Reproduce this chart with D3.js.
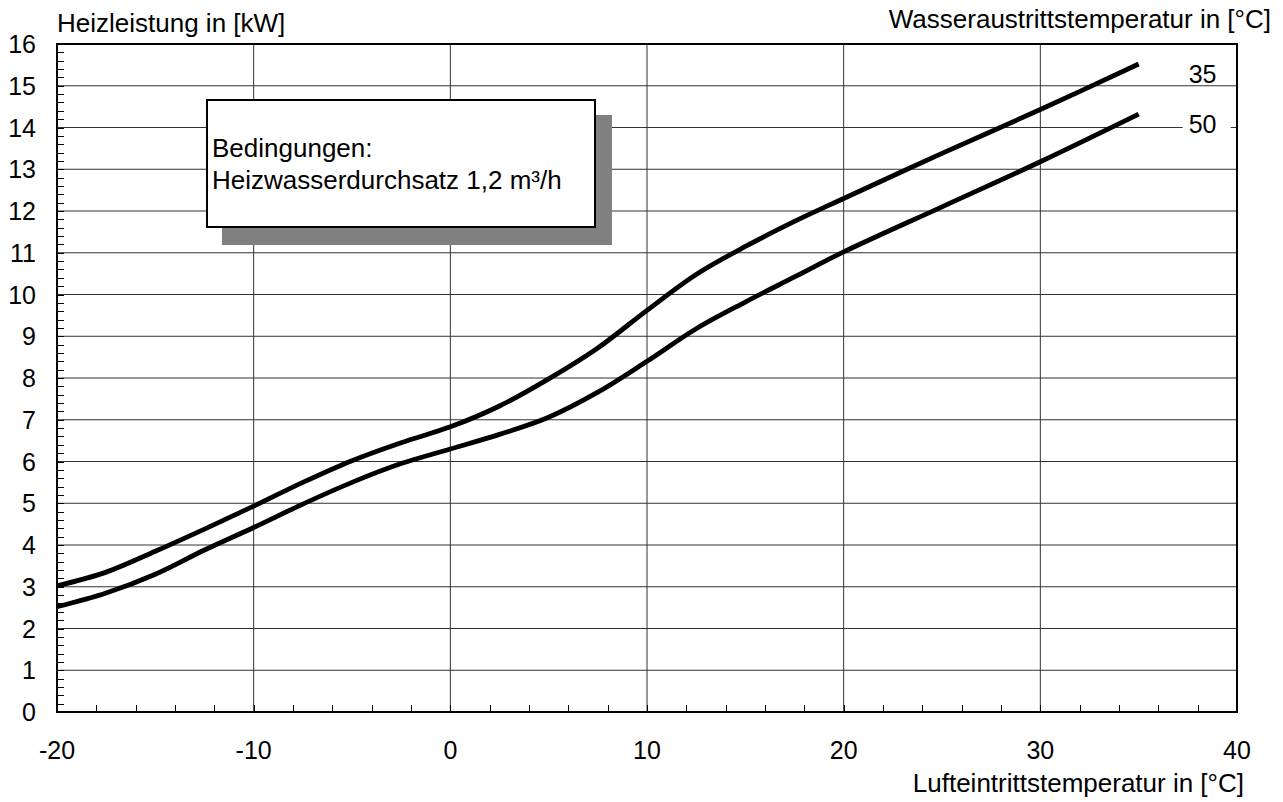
<!DOCTYPE html>
<html>
<head>
<meta charset="utf-8">
<script src="https://cdn.jsdelivr.net/npm/d3@7"></script>
<style>
  body { margin: 0; background: #fff; }
  text { font-family: "Liberation Sans", Arial, sans-serif; fill: #000; }
</style>
</head>
<body>
<script>
// chart size
var width = 1283;
var height = 802;
var margin = {top: 44, right: 46, bottom: 90, left: 57};
var fs = 26;

// data
var lufttemp = [-20, -17.5, -15, -12.5, -10, -7.5, -5, -2.5, 0, 2.5, 5, 7.5, 10, 12.5, 15, 17.5, 20, 25, 30, 35];
var leistung35 = [3.02, 3.35, 3.85, 4.38, 4.93, 5.5, 6.02, 6.45, 6.83, 7.33, 7.98, 8.72, 9.62, 10.48, 11.15, 11.75, 12.3, 13.38, 14.43, 15.52];
var leistung50 = [2.52, 2.85, 3.3, 3.88, 4.42, 4.98, 5.5, 5.95, 6.3, 6.65, 7.06, 7.66, 8.4, 9.18, 9.82, 10.42, 11.02, 12.1, 13.18, 14.32];
var seriesLabels = ['35', '50'];
var xTicks = [-20, -10, 0, 10, 20, 30, 40];
var yTicks = d3.range(0, 17);

var svg = d3.select('body').append('svg')
  .attr('width', width)
  .attr('height', height);

var x = d3.scaleLinear().domain([-20, 40]).range([margin.left, width - margin.right]);
var y = d3.scaleLinear().domain([0, 16]).range([height - margin.bottom, margin.top]);

// grid lines
svg.append('g').selectAll('line').data(yTicks.slice(1, -1))
  .enter().append('line')
  .attr('x1', x(-20)).attr('x2', x(40))
  .attr('y1', function(d) { return y(d); })
  .attr('y2', function(d) { return y(d); })
  .attr('stroke', '#333').attr('stroke-width', 1);

svg.append('g').selectAll('line').data(xTicks.slice(1, -1))
  .enter().append('line')
  .attr('x1', function(d) { return x(d); })
  .attr('x2', function(d) { return x(d); })
  .attr('y1', y(0)).attr('y2', y(16))
  .attr('stroke', '#333').attr('stroke-width', 1);

// minor ticks, pointing inwards
svg.append('g').selectAll('line').data(d3.range(0, 16.01, 0.2))
  .enter().append('line')
  .attr('x1', x(-20)).attr('x2', x(-20) + 7)
  .attr('y1', function(d) { return Math.round(y(d)) + 0.5; })
  .attr('y2', function(d) { return Math.round(y(d)) + 0.5; })
  .attr('stroke', '#000').attr('stroke-width', 1);

svg.append('g').selectAll('line').data(d3.range(-20, 40.01, 2))
  .enter().append('line')
  .attr('x1', function(d) { return Math.round(x(d)) + 0.5; })
  .attr('x2', function(d) { return Math.round(x(d)) + 0.5; })
  .attr('y1', y(0)).attr('y2', y(0) - 7)
  .attr('stroke', '#000').attr('stroke-width', 1);

// frame
svg.append('rect')
  .attr('x', x(-20)).attr('y', y(16))
  .attr('width', x(40) - x(-20)).attr('height', y(0) - y(16))
  .attr('fill', 'none').attr('stroke', '#000').attr('stroke-width', 2);

// tick labels
svg.append('g').selectAll('text').data(yTicks)
  .enter().append('text')
  .attr('x', x(-20) - 21)
  .attr('y', function(d) { return y(d); })
  .attr('dy', '0.36em')
  .attr('text-anchor', 'end')
  .attr('font-size', fs - 1)
  .text(function(d) { return d; });

svg.append('g').selectAll('text').data(xTicks)
  .enter().append('text')
  .attr('x', function(d) { return x(d); })
  .attr('y', y(0) + 47)
  .attr('text-anchor', 'middle')
  .attr('font-size', fs - 1)
  .text(function(d) { return d; });

// axis titles
svg.append('text').attr('x', 57).attr('y', 32).attr('font-size', fs)
  .text('Heizleistung in [kW]');
svg.append('text').attr('x', 1271).attr('y', 28).attr('text-anchor', 'end').attr('font-size', fs)
  .text('Wasseraustrittstemperatur in [°C]');
svg.append('text').attr('x', 1244).attr('y', 792).attr('text-anchor', 'end').attr('font-size', fs)
  .text('Lufteintrittstemperatur in [°C]');

// curves
var line = d3.line()
  .x(function(d) { return x(d[0]); })
  .y(function(d) { return y(d[1]); })
  .curve(d3.curveCatmullRom.alpha(0.5));

[leistung35, leistung50].forEach(function(vals, i) {
  var pts = lufttemp.map(function(t, j) { return [t, vals[j]]; });
  svg.append('path')
    .datum(pts)
    .attr('d', line)
    .attr('fill', 'none')
    .attr('stroke', '#000')
    .attr('stroke-width', 4.8);
  // series label; the lower one sits on a white patch over the grid line
  var lx = x(35) + 50, ly = y(vals[vals.length - 1]) + 19;
  if (i === 1) {
    svg.append('rect').attr('x', lx - 6).attr('y', ly - 22).attr('width', 48).attr('height', 28)
      .attr('fill', '#fff');
  }
  svg.append('text').attr('x', lx).attr('y', ly).attr('font-size', fs - 1)
    .text(seriesLabels[i]);
});

// info box with shadow
svg.append('rect').attr('x', 222).attr('y', 115).attr('width', 390).attr('height', 130)
  .attr('fill', '#808080');
svg.append('rect').attr('x', 207).attr('y', 100).attr('width', 388).attr('height', 127)
  .attr('fill', '#fff').attr('stroke', '#000').attr('stroke-width', 2);
svg.append('text').attr('x', 212).attr('y', 157).attr('font-size', fs).text('Bedingungen:');
svg.append('text').attr('x', 212).attr('y', 189).attr('font-size', fs).text('Heizwasserdurchsatz 1,2 m³/h');
</script>
</body>
</html>
